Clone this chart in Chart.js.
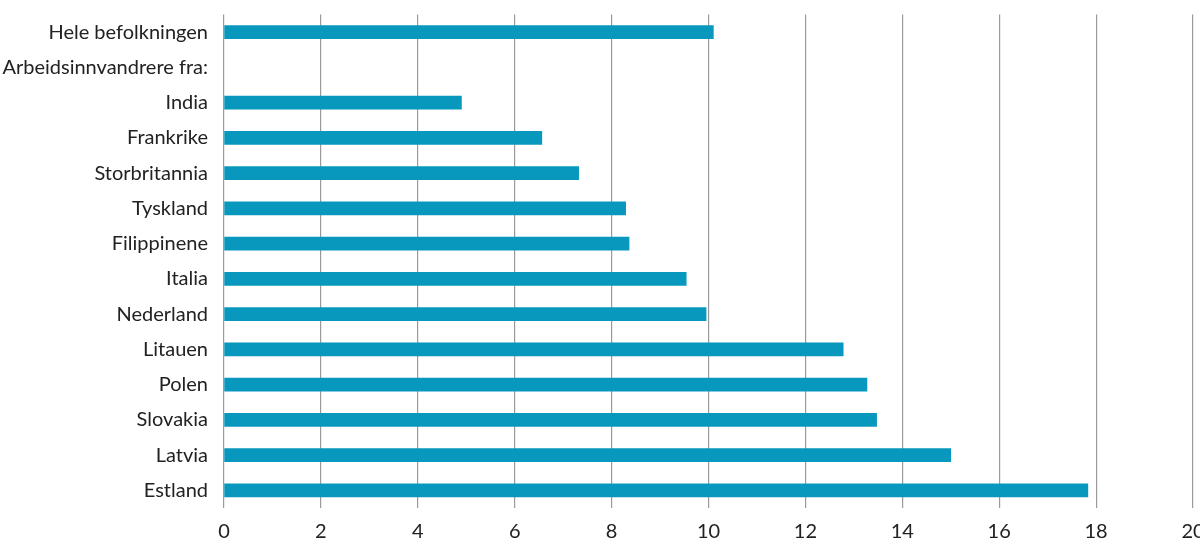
<!DOCTYPE html>
<html>
<head>
<meta charset="utf-8">
<script src="https://cdn.jsdelivr.net/npm/chart.js@4/dist/chart.umd.min.js"></script>
<style>
  html, body { margin: 0; padding: 0; background: #fff; }
  #wrap { width: 1200px; height: 558px; position: relative; }
</style>
</head>
<body>
<div id="wrap"><canvas id="c"></canvas></div>
<script>
const categories = [
  "Hele befolkningen",
  "Arbeidsinnvandrere fra:",
  "India",
  "Frankrike",
  "Storbritannia",
  "Tyskland",
  "Filippinene",
  "Italia",
  "Nederland",
  "Litauen",
  "Polen",
  "Slovakia",
  "Latvia",
  "Estland"
];
const values = [10.1, null, 4.9, 6.56, 7.32, 8.29, 8.36, 9.54, 9.95, 12.78, 13.27, 13.47, 15.0, 17.83];
const xTicks = [0, 2, 4, 6, 8, 10, 12, 14, 16, 18, 20];

const FONT = "Lato";
Chart.defaults.font.family = FONT;
Chart.defaults.color = "#222";

new Chart(document.getElementById("c"), {
  type: "bar",
  data: {
    labels: categories,
    datasets: [{
      data: values,
      backgroundColor: "#0898bd",
      borderWidth: 0,
      barThickness: 13
    }]
  },
  options: {
    indexAxis: "y",
    responsive: true,
    maintainAspectRatio: false,
    animation: false,
    layout: { padding: { top: 14.5, right: 7, bottom: 0, left: 0 } },
    plugins: { legend: { display: false }, tooltip: { enabled: false } },
    scales: {
      x: {
        min: 0, max: 20,
        afterBuildTicks: (s) => { s.ticks = xTicks.map(v => ({ value: v })); },
        afterFit: (s) => { s.height = 50; s.paddingRight = 0; s.paddingLeft = 0; },
        grid: { color: "#9a9a9a", lineWidth: 1.2, drawTicks: false },
        border: { display: false },
        ticks: { font: { size: 20 }, color: "#222", padding: 12, maxRotation: 0 }
      },
      y: {
        afterFit: (s) => { s.width = 224; s.paddingTop = 0; s.paddingBottom = 0; },
        grid: { display: false, drawTicks: false },
        border: { display: false },
        ticks: { font: { size: 20 }, color: "#222", padding: 16, autoSkip: false }
      }
    }
  }
});
</script>
</body>
</html>
